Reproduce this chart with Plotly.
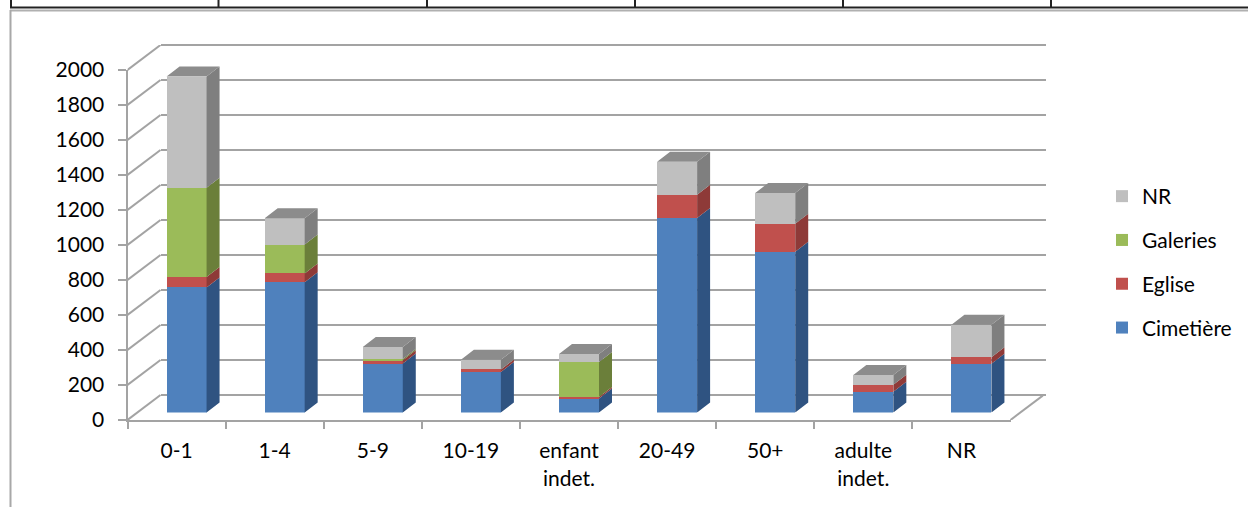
import plotly.graph_objects as go

categories = ["0-1", "1-4", "5-9", "10-19", "enfant<br>indet.", "20-49", "50+", "adulte<br>indet.", "NR"]
cimetiere = [715, 745, 280, 232, 80, 1112, 918, 118, 278]
eglise = [60, 50, 18, 14, 8, 132, 160, 40, 38]
galeries = [510, 165, 8, 0, 200, 0, 0, 0, 0]
nr = [635, 150, 68, 55, 46, 189, 177, 57, 185]
y_ticks = list(range(0, 2001, 200))

series = [
    ("Cimetière", cimetiere, "#4f81bd", "#2f5381"),
    ("Eglise", eglise, "#c0504d", "#8e3a38"),
    ("Galeries", galeries, "#9bbb59", "#6b7f3a"),
    ("NR", nr, "#bfbfbf", "#7f7f7f"),
]

W, H = 1248, 507
FONT = "Lato, Carlito, Calibri, sans-serif"
FS = 21
GRID = "#a3a3a3"

# pixel geometry of the pseudo-3D box
X0, X1 = 127.5, 1010.5
Y0, Y1 = 420.0, 70.0
DEPTH_X, DEPTH_Y = 33.0, 25.0
BAR_X, BAR_Y = 10.0, 7.5
BAR_DX, BAR_DY = 13.0, 10.0
CAT = (X1 - X0) / 9
VAL = (Y0 - Y1) / 2000
BAR_W = 40.0
WALL_PAD = 100  # value units kept either side of the wall so its end lines are drawn


def dom_x(a, b):
    return [a / W, b / W]


def dom_y(top, bottom):
    return [1 - bottom / H, 1 - top / H]


fig = go.Figure()
n = len(categories)
idx = list(range(n))

# Back wall (grid only)
fig.add_trace(go.Scatter(x=[0, n], y=[0, 0], xaxis="x", yaxis="y", mode="lines",
                         line=dict(width=0), hoverinfo="skip", showlegend=False))

# Depth lines: from each front tick to the back wall, in a box that holds them whole
ddx = DEPTH_X / CAT
ddy = DEPTH_Y / VAL
xs, ys = [], []
for v in y_ticks:
    xs += [0, ddx, None]
    ys += [v, v + ddy, None]
xs += [n, n + ddx, None]
ys += [0, ddy, None]
fig.add_trace(go.Scatter(x=xs, y=ys, xaxis="x2", yaxis="y2", mode="lines",
                         line=dict(color=GRID, width=2), hoverinfo="skip",
                         showlegend=False, cliponaxis=False))

# Front axes (ticks and labels)
fig.add_trace(go.Scatter(x=categories, y=[0] * n, xaxis="x3", yaxis="y3", mode="lines",
                         line=dict(width=0), hoverinfo="skip", showlegend=False))

# Bars on the mid-depth plane
for rank, (name, vals, col, _) in enumerate(series):
    fig.add_trace(go.Bar(x=idx, y=vals, name=name, marker=dict(color=col, line=dict(width=0)),
                         width=BAR_W / CAT, xaxis="x4", yaxis="y4", legendgroup=name,
                         legendrank=100 - rank))

ux = BAR_DX / CAT
uy = BAR_DY / VAL
half = BAR_W / CAT / 2

# Side faces
bases = [0] * n
for name, vals, _, side in series:
    xs, ys = [], []
    for i in idx:
        b, t = bases[i], bases[i] + vals[i]
        r = i + half
        xs += [r, r + ux, r + ux, r, r, None]
        ys += [b, b + uy, t + uy, t, b, None]
        bases[i] = t
    fig.add_trace(go.Scatter(x=xs, y=ys, xaxis="x4", yaxis="y4", mode="lines", fill="toself",
                             fillcolor=side, line=dict(width=0), hoverinfo="skip",
                             showlegend=False, cliponaxis=False))

# Top faces
xs, ys = [], []
for i in idx:
    l, r, t = i - half, i + half, bases[i]
    xs += [l, r, r + ux, l + ux, l, None]
    ys += [t, t, t + uy, t + uy, t, None]
fig.add_trace(go.Scatter(x=xs, y=ys, xaxis="x4", yaxis="y4", mode="lines", fill="toself",
                         fillcolor="#8c8c8c", line=dict(width=0), hoverinfo="skip",
                         showlegend=False, cliponaxis=False))

hidden = dict(visible=False, fixedrange=True)
fig.update_layout(
    width=W, height=H,
    margin=dict(l=0, r=0, t=0, b=0, autoexpand=False),
    paper_bgcolor="white", plot_bgcolor="rgba(0,0,0,0)",
    barmode="stack",
    font=dict(family=FONT, size=FS, color="#000000"),
    showlegend=True,
    legend=dict(x=1102 / W, y=1 - 176 / H, xanchor="left", yanchor="top",
                traceorder="grouped", tracegroupgap=13.5,
                font=dict(family=FONT, size=FS, color="#000000"),
                bgcolor="rgba(0,0,0,0)", itemclick=False, itemdoubleclick=False),
    xaxis=dict(domain=dom_x(X0 + DEPTH_X, X1 + DEPTH_X + 2), range=[0, n], visible=False,
               fixedrange=True, anchor="y"),
    yaxis=dict(domain=dom_y(Y1 - DEPTH_Y - WALL_PAD * VAL, Y0 - DEPTH_Y + WALL_PAD * VAL),
               range=[-WALL_PAD, 2000 + WALL_PAD], tickvals=y_ticks,
               showgrid=True, gridcolor=GRID, gridwidth=2, showticklabels=False,
               showline=False, zeroline=False, ticks="", fixedrange=True, anchor="x"),
    xaxis2=dict(domain=dom_x(X0, X1 + DEPTH_X), range=[0, n + ddx], anchor="y2", **hidden),
    yaxis2=dict(domain=dom_y(Y1 - DEPTH_Y, Y0), range=[0, 2000 + ddy], anchor="x2", **hidden),
    xaxis3=dict(domain=dom_x(X0, X1), type="category", categoryorder="array",
                categoryarray=categories, range=[-0.5, n - 0.5], tickson="boundaries",
                ticks="outside", ticklen=7,
                tickwidth=2, tickcolor=GRID, showline=True, linecolor=GRID, linewidth=2,
                showgrid=False, zeroline=False, fixedrange=True, anchor="y3",
                tickangle=0, ticklabelstandoff=11, tickfont=dict(family=FONT, size=FS)),
    yaxis3=dict(domain=dom_y(Y1, Y0), range=[0, 2000], tickvals=y_ticks, ticks="outside",
                ticklen=8, tickwidth=2, tickcolor=GRID, showline=True, linecolor=GRID,
                linewidth=2, showgrid=False, zeroline=False, fixedrange=True,
                anchor="x3", ticklabelstandoff=9, tickfont=dict(family=FONT, size=FS)),
    xaxis4=dict(domain=dom_x(X0 + BAR_X, X1 + BAR_X), range=[-0.5, n - 0.5],
                anchor="y4", **hidden),
    yaxis4=dict(domain=dom_y(Y1 - BAR_Y, Y0 - BAR_Y), range=[0, 2000],
                anchor="x4", **hidden),
)

# Surrounding page furniture: table border above the chart, chart frame at the left
shapes = [
    dict(type="line", xref="paper", yref="paper", x0=10 / W, x1=1, y0=1 - 10.5 / H, y1=1 - 10.5 / H,
         line=dict(color="#b0b0b0", width=2)),
    dict(type="line", xref="paper", yref="paper", x0=10.5 / W, x1=10.5 / W, y0=0, y1=1 - 10 / H,
         line=dict(color="#a8a8a8", width=2)),
    dict(type="line", xref="paper", yref="paper", x0=10 / W, x1=1, y0=1 - 7.5 / H, y1=1 - 7.5 / H,
         line=dict(color="#222222", width=2)),
]
for px in [11, 218.5, 427, 635, 843, 1051]:
    shapes.append(dict(type="line", xref="paper", yref="paper", x0=px / W, x1=px / W,
                       y0=1 - 7 / H, y1=1, line=dict(color="#222222", width=2)))
fig.update_layout(shapes=shapes)

fig.write_html("out.html", config=dict(displayModeBar=False),
               post_script="document.body.style.margin='0';document.body.style.overflow='hidden';")
